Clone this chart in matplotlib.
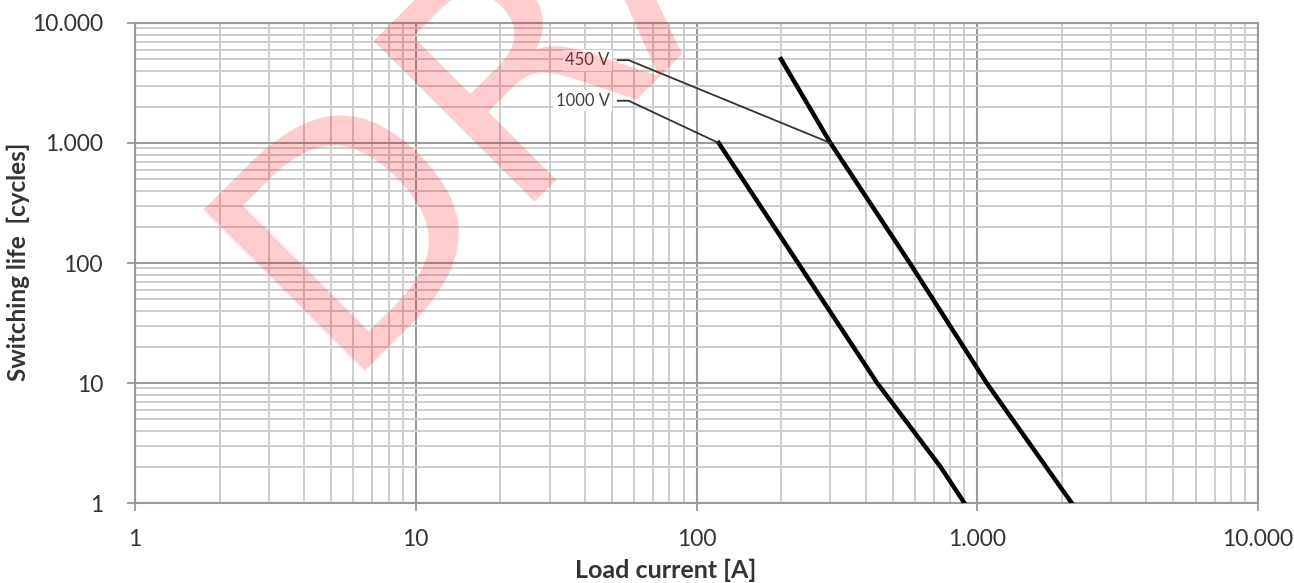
import matplotlib
matplotlib.use('Agg')
import matplotlib.pyplot as plt
from matplotlib.ticker import FixedLocator, FixedFormatter, LogLocator, NullFormatter

# switching life curves
current_450 = [200, 300, 575, 1080, 2170]
cycles_450 = [5000, 1000, 100, 10, 1]
current_1000 = [120, 230, 440, 740, 900]
cycles_1000 = [1000, 100, 10, 2, 1]

decades = [1, 10, 100, 1000, 10000]
decade_labels = ['1', '10', '100', '1.000', '10.000']

plt.rcParams['font.family'] = ['Lato', 'DejaVu Sans']

fig = plt.figure(figsize=(12.94, 5.83), dpi=100)
ax = fig.add_axes([0.10433, 0.13722, 0.86785, 0.82333])

ax.set_xscale('log')
ax.set_yscale('log')
ax.set_xlim(1, 10000)
ax.set_ylim(1, 10000)

for axis in (ax.xaxis, ax.yaxis):
    axis.set_major_locator(FixedLocator(decades))
    axis.set_major_formatter(FixedFormatter(decade_labels))
    axis.set_minor_locator(LogLocator(base=10, subs=range(2, 10), numticks=20))
    axis.set_minor_formatter(NullFormatter())

ax.grid(True, which='minor', color='#cdcdcd', linewidth=1.4)
ax.grid(True, which='major', color='#9a9a9a', linewidth=1.5)
ax.set_axisbelow(True)
ax.tick_params(which='minor', length=0)
ax.tick_params(which='major', length=6, width=1.3, color='#9a9a9a',
               labelsize=16.5, labelcolor='#333333')
ax.tick_params(axis='y', pad=17)
ax.tick_params(axis='x', pad=13)
for s in ax.spines.values():
    s.set_color('#9a9a9a')
    s.set_linewidth(1.5)

ax.plot(current_450, cycles_450, color='black', linewidth=3.2, zorder=3)
ax.plot(current_1000, cycles_1000, color='black', linewidth=3.2, zorder=3)

# labels with leader lines to the start of each curve
for txt, ly, tx, ty in [('450 V', 4900, current_450[1], cycles_450[1]),
                        ('1000 V', 2250, current_1000[0], cycles_1000[0])]:
    ax.text(49, ly, txt, ha='right', va='center', fontsize=12, color='#404040',
            bbox=dict(boxstyle='square,pad=0.15', fc='white', ec='none'), zorder=4)
    ax.plot([49 * 1.07, 49 * 1.17, tx], [ly, ly, ty], color='#333333',
            linewidth=1.3, zorder=4)

ax.set_xlabel('Load current [A]', fontsize=18, fontweight='bold', color='#333333')
ax.xaxis.set_label_coords(0.473, -0.115)
ax.set_ylabel('Switching life  [cycles]', fontsize=17.5, fontweight='bold',
              color='#333333')
ax.yaxis.set_label_coords(-0.0935, 0.502)

fig.text(334 / 1294, 1 - 371 / 583, 'DRAFT', rotation=45, rotation_mode='anchor',
         ha='left', va='baseline', fontsize=225, color='red', alpha=0.2,
         family='DejaVu Sans', zorder=10)

fig.savefig('out.png', dpi=100)
